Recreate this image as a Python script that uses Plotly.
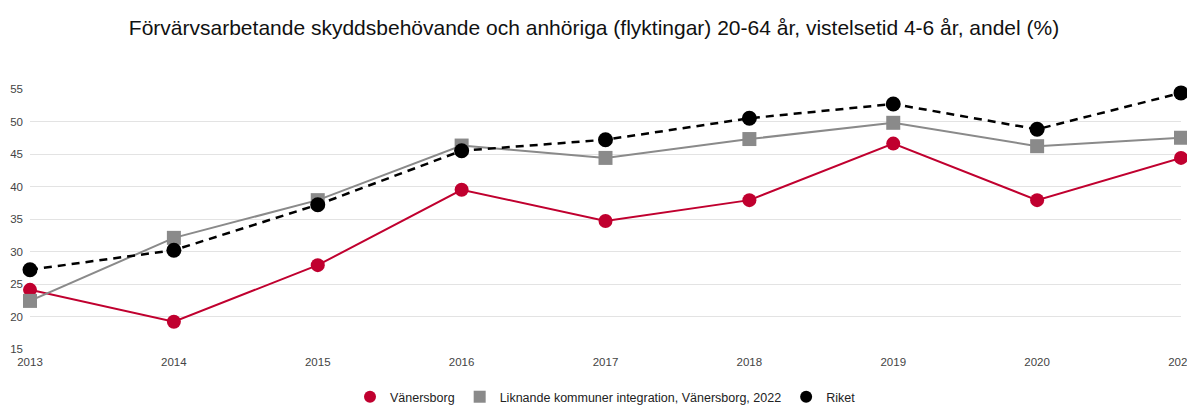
import plotly.graph_objects as go

years = ["2013", "2014", "2015", "2016", "2017", "2018", "2019", "2020", "2021"]
vanersborg = [24.1, 19.2, 27.9, 39.5, 34.7, 37.9, 46.6, 37.9, 44.4]
liknande = [22.4, 32.1, 37.9, 46.3, 44.4, 47.3, 49.8, 46.2, 47.5]
riket = [27.2, 30.2, 37.2, 45.5, 47.2, 50.5, 52.7, 48.8, 54.4]

names = ["Vänersborg", "Liknande kommuner integration, Vänersborg, 2022", "Riket"]
red = "#c0002f"
gray = "#8a8a8a"
black = "#000000"

fig = go.Figure()
fig.add_trace(go.Scatter(x=years, y=vanersborg, mode="lines+markers", name=names[0],
                         line=dict(color=red, width=2), cliponaxis=False,
                         marker=dict(symbol="circle", size=14, color=red), showlegend=False))
fig.add_trace(go.Scatter(x=years, y=liknande, mode="lines+markers", name=names[1],
                         line=dict(color=gray, width=2), cliponaxis=False,
                         marker=dict(symbol="square", size=14, color=gray), showlegend=False))
fig.add_trace(go.Scatter(x=years, y=riket, mode="lines+markers", name=names[2],
                         line=dict(color=black, width=2.5, dash="8px,6px"), cliponaxis=False,
                         marker=dict(symbol="circle", size=15, color=black), showlegend=False))
# legend entries (markers only)
for nm, col, sym in zip(names, [red, gray, black], ["circle", "square", "circle"]):
    fig.add_trace(go.Scatter(x=[None], y=[None], mode="markers", name=nm,
                             marker=dict(symbol=sym, size=14, color=col)))

fig.update_layout(
    width=1187, height=399,
    paper_bgcolor="white", plot_bgcolor="white",
    font=dict(family="Liberation Sans, Arial, sans-serif", size=12, color="#444"),
    title=dict(text="Förvärvsarbetande skyddsbehövande och anhöriga (flyktingar) 20-64 år, vistelsetid 4-6 år, andel (%)",
               x=0.4937, xanchor="center", y=0.952, yanchor="middle",
               font=dict(size=21, color="#111")),
    margin=dict(l=22, r=14, t=81, b=58, autoexpand=False),
    showlegend=True,
    legend=dict(orientation="h", x=0.5, xanchor="center", y=-0.185, yanchor="middle",
                font=dict(size=12.5, color="#222"), itemsizing="constant"),
    xaxis=dict(type="category", showgrid=False, zeroline=False, showline=False, automargin=False,
               ticks="", range=[0, 8], ticklabelstandoff=4, ticklabeloverflow="allow",
               tickfont=dict(size=11.5, color="#444")),
    yaxis=dict(range=[15, 55], dtick=5, tick0=15, showgrid=True, gridcolor="#e3e3e3",
               zeroline=False, showline=False, ticks="", automargin=False, ticklabelstandoff=6,
               tickfont=dict(size=11.5, color="#444")),
)
fig.write_html("out.html")
